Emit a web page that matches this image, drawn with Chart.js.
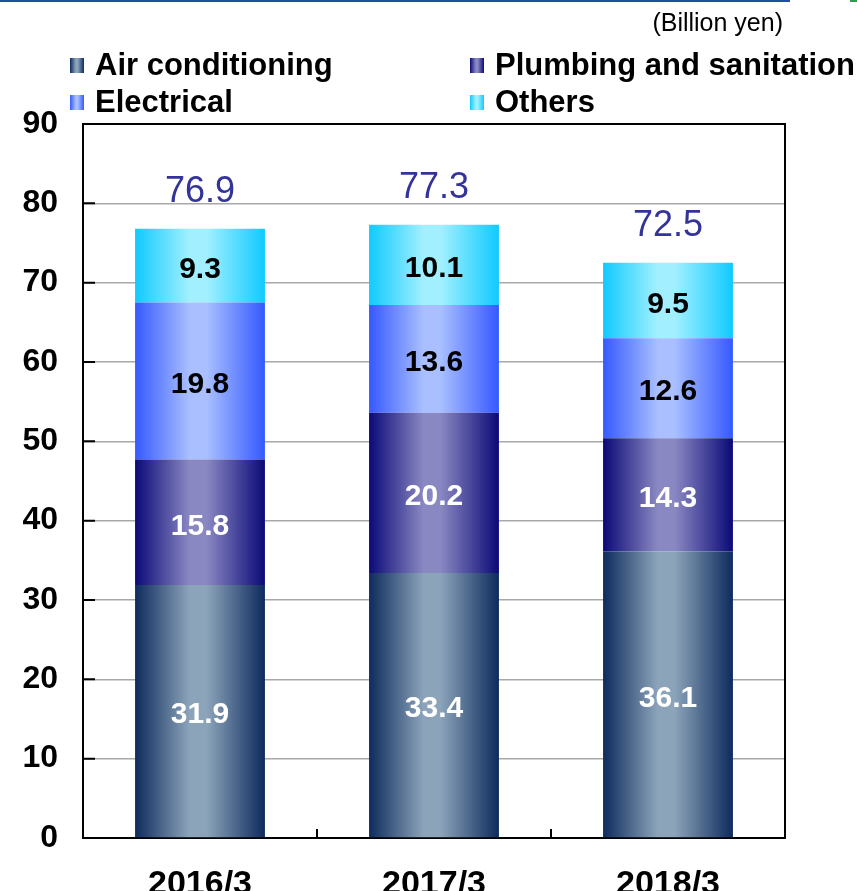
<!DOCTYPE html>
<html>
<head>
<meta charset="utf-8">
<title>Sales by segment</title>
<script src="https://cdn.jsdelivr.net/npm/chart.js@4.4.1/dist/chart.umd.min.js"></script>
<style>
  html, body { margin: 0; padding: 0; background: #ffffff; }
  #wrap { position: relative; width: 857px; height: 891px; }
</style>
</head>
<body>
<div id="wrap"><canvas id="SalesChart" width="857" height="891"></canvas></div>
<script>
"use strict";
// chart values
var Periods = ["2016/3", "2017/3", "2018/3"];
var AirConditioning = [31.9, 33.4, 36.1];
var Plumbing = [15.8, 20.2, 14.3];
var Electrical = [19.8, 13.6, 12.6];
var Others = [9.3, 10.1, 9.5];
var Totals = [76.9, 77.3, 72.5];
var SeriesNames = ["Air conditioning", "Plumbing and sanitation", "Electrical", "Others"];
var UnitLabel = "(Billion yen)";

var fontFamily = "'Liberation Sans', Arial, sans-serif";
var barPct = 0.555;

// dark edge / light centre for each series
var shades = [
    ["#0d2b5d", "#8ca4ba"],
    ["#0b0a77", "#8a88c2"],
    ["#3559ff", "#a9bfff"],
    ["#10caff", "#a2f0ff"]
];
var labelColors = ["#ffffff", "#ffffff", "#000000", "#000000"];

function makeGradient(c, x0, w, dark, light) {
    var g = c.createLinearGradient(x0, 0, x0 + w, 0);
    g.addColorStop(0, dark);
    g.addColorStop(0.42, light);
    g.addColorStop(0.55, light);
    g.addColorStop(1, dark);
    return g;
}

function barFill(idx) {
    return function (ctx) {
        var chart = ctx.chart;
        var xs = chart.scales.x;
        if (!chart.chartArea || !xs || ctx.type !== "data") {
            return shades[idx][1];
        }
        var cx = xs.getPixelForValue(ctx.dataIndex);
        var w = (xs.width / Periods.length) * barPct;
        return makeGradient(chart.ctx, cx - w / 2, w, shades[idx][0], shades[idx][1]);
    };
}

// ------------------------------------------------------- //
// frame, inward ticks, labels, legend
// ------------------------------------------------------ //
var decorPlugin = {
    id: "decor",
    afterDatasetsDraw: function (chart) {
        var c = chart.ctx;
        c.save();
        c.textAlign = "center";
        c.textBaseline = "middle";
        chart.data.datasets.forEach(function (ds, i) {
            var meta = chart.getDatasetMeta(i);
            c.font = "bold 30px " + fontFamily;
            c.fillStyle = labelColors[i];
            meta.data.forEach(function (el, j) {
                c.fillText(ds.data[j].toFixed(1), el.x, (el.y + el.base) / 2 + 4);
            });
        });
        // totals above the stacks
        var top = chart.getDatasetMeta(chart.data.datasets.length - 1);
        c.font = "36px " + fontFamily;
        c.fillStyle = "#343498";
        top.data.forEach(function (el, j) {
            c.fillText(Totals[j].toFixed(1), el.x, el.y - 37);
        });
        c.restore();
    },
    afterDraw: function (chart) {
        var c = chart.ctx;
        var a = chart.chartArea;
        var xs = chart.scales.x;
        var ys = chart.scales.y;
        c.save();
        c.strokeStyle = "#000000";
        c.lineWidth = 2;
        c.beginPath();
        c.moveTo(a.left, a.top);
        c.lineTo(a.right, a.top);
        c.lineTo(a.right, a.bottom);
        ys.ticks.forEach(function (t) {
            var y = ys.getPixelForValue(t.value);
            c.moveTo(a.left, y);
            c.lineTo(a.left + 12, y);
        });
        for (var i = 0; i < Periods.length - 1; i++) {
            var x = (xs.getPixelForValue(i) + xs.getPixelForValue(i + 1)) / 2;
            c.moveTo(x, a.bottom);
            c.lineTo(x, a.bottom - 9);
        }
        c.stroke();

        // rule along the top of the page
        c.strokeStyle = "#1f4f9f";
        c.beginPath();
        c.moveTo(0, 1);
        c.lineTo(790, 1);
        c.stroke();
        c.strokeStyle = "#2aa050";
        c.beginPath();
        c.moveTo(850, 1);
        c.lineTo(857, 1);
        c.stroke();

        // unit
        c.fillStyle = "#000000";
        c.font = "25px " + fontFamily;
        c.textAlign = "right";
        c.textBaseline = "middle";
        c.fillText(UnitLabel, a.right - 2, 24);

        // legend, two columns
        var cols = [70, 470];
        var rows = [65, 102];
        c.font = "bold 31px " + fontFamily;
        c.textAlign = "left";
        SeriesNames.forEach(function (name, k) {
            var lx = cols[k % 2];
            var ly = rows[Math.floor(k / 2)];
            c.fillStyle = makeGradient(c, lx, 14, shades[k][0], shades[k][1]);
            c.fillRect(lx, ly - 7, 14, 15);
            c.fillStyle = "#000000";
            c.fillText(name, lx + 25, ly + 1);
        });
        c.restore();
    }
};

// ------------------------------------------------------- //
// Stacked bar chart
// ------------------------------------------------------ //
var SALESCHART = document.getElementById("SalesChart");
var seriesData = [AirConditioning, Plumbing, Electrical, Others];
var salesChart = new Chart(SALESCHART, {
    type: "bar",
    plugins: [decorPlugin],
    data: {
        labels: Periods,
        datasets: seriesData.map(function (vals, k) {
            return {
                label: SeriesNames[k],
                data: vals,
                backgroundColor: barFill(k),
                borderWidth: 0,
                categoryPercentage: 1,
                barPercentage: barPct
            };
        })
    },
    options: {
        responsive: false,
        animation: false,
        layout: {
            padding: { top: 124, right: 72, bottom: 0, left: 0 }
        },
        plugins: {
            legend: { display: false },
            tooltip: { enabled: false }
        },
        scales: {
            x: {
                stacked: true,
                grid: { display: false, drawTicks: false },
                border: { display: true, color: "#000000", width: 2 },
                ticks: {
                    color: "#000000",
                    padding: 26,
                    font: { family: fontFamily, size: 34, weight: "bold" }
                },
                afterFit: function (scale) { scale.height = 53; }
            },
            y: {
                stacked: true,
                min: 0,
                max: 90,
                grid: {
                    color: function (ctx) {
                        return ctx.tick && ctx.tick.value === 90 ? "#000000" : "#a8a8a8";
                    },
                    lineWidth: 1.5,
                    drawTicks: false
                },
                border: { display: true, color: "#000000", width: 2 },
                ticks: {
                    stepSize: 10,
                    color: "#000000",
                    padding: 25,
                    font: { family: fontFamily, size: 32, weight: "bold" }
                },
                afterFit: function (scale) { scale.width = 83; }
            }
        }
    }
});
</script>
</body>
</html>
